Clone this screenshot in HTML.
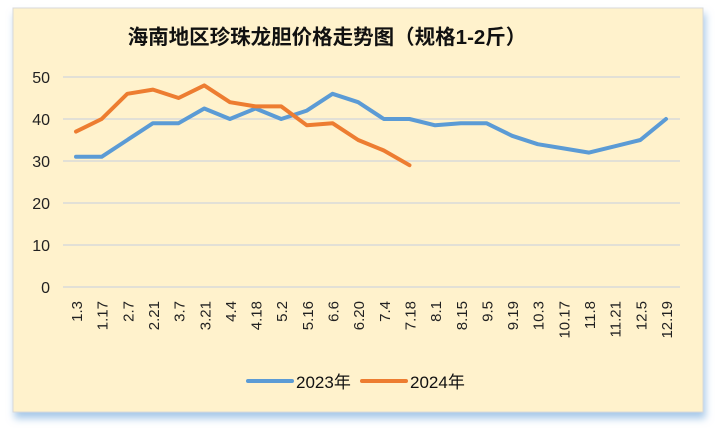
<!DOCTYPE html>
<html><head><meta charset="utf-8"><style>
body{margin:0;width:716px;height:429px;background:#fff;overflow:hidden;font-family:"Liberation Sans","Noto Sans CJK SC",sans-serif}
</style></head><body>
<svg width="716" height="429" xmlns="http://www.w3.org/2000/svg">
<defs><filter id="sh" x="-5%" y="-5%" width="110%" height="115%"><feDropShadow dx="2" dy="6" stdDeviation="4" flood-color="#9dc3e6" flood-opacity="0.9"/></filter></defs>
<rect x="13" y="8" width="690" height="404" fill="#fff2cc" stroke="#d9d9d9" filter="url(#sh)"/>
<text x="327" y="44" text-anchor="middle" font-size="20.5" font-weight="bold" fill="#111" font-family="'Liberation Sans','Noto Sans CJK SC',sans-serif">海南地区珍珠龙胆价格走势图（规格1-2斤）</text>
<g id="grid"></g><g id="xl"></g><g id="lines"></g>
<g>
<line x1="248" y1="381" x2="292" y2="381" stroke="#5b9bd5" stroke-width="4" stroke-linecap="round"/>
<text x="296" y="388" font-size="17" fill="#111">2023年</text>
<line x1="362" y1="381" x2="406" y2="381" stroke="#ed7d31" stroke-width="4" stroke-linecap="round"/>
<text x="410" y="388" font-size="17" fill="#111">2024年</text>
</g>
</svg>
<script>
const categories=["1.3","1.17","2.7","2.21","3.7","3.21","4.4","4.18","5.2","5.16","6.6","6.20","7.4","7.18","8.1","8.15","9.5","9.19","10.3","10.17","11.8","11.21","12.5","12.19"];
const series2023=[31,31,35,39,39,42.5,40,42.5,40,42,46,44,40,40,38.5,39,39,36,34,33,32,33.5,35,40];
const series2024=[37,40,46,47,45,48,44,43,43,38.5,39,35,32.5,29];
const yTicks=[0,10,20,30,40,50];
const NS="http://www.w3.org/2000/svg";
const x=i=>76+i*(666-76)/(categories.length-1);
const y=v=>287-v*4.2;
function mk(t,a,p){const e=document.createElementNS(NS,t);for(const k in a)e.setAttribute(k,a[k]);p.appendChild(e);return e;}
const grid=document.getElementById('grid');
yTicks.forEach(t=>{
 const l=mk('line',{x1:63,x2:680,y1:y(t),y2:y(t),stroke:'#d9d9d9','stroke-width':1.5},grid);
 
 
 const tx=mk('text',{x:50,y:y(t)+6,'text-anchor':'end','font-size':16,fill:'#222'},grid);
 tx.textContent=t;
 
 
});
const xl=document.getElementById('xl');
categories.forEach((c,i)=>{
 const tx=mk('text',{transform:`translate(${x(i)+6},301) rotate(-90)`,'text-anchor':'end','font-size':15,fill:'#222'},xl);
 tx.textContent=c;
 
 
});
const lines=document.getElementById('lines');
[[series2023,'#5b9bd5','2023'],[series2024,'#ed7d31','2024']].forEach(([s,col,n])=>{
 const p=mk('polyline',{points:s.map((v,i)=>x(i)+','+y(v)).join(' '),fill:'none',stroke:col,'stroke-width':4,'stroke-linejoin':'round','stroke-linecap':'round'},lines);
 
 
});
</script>
</body></html>
